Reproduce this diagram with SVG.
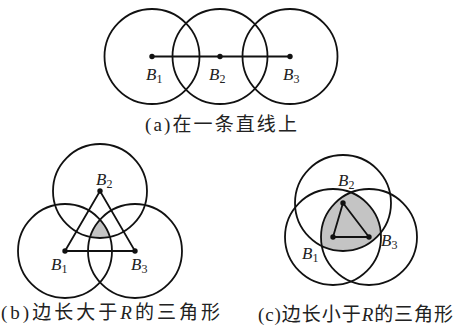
<svg xmlns="http://www.w3.org/2000/svg" width="457" height="332" viewBox="0 0 457 332">
<style>
.c{fill:none;stroke:#111;stroke-width:1.8}
.e{fill:none;stroke:#111;stroke-width:1.8}
.d{fill:#111}
.sh{fill:#c4c4c4;stroke:none}
.lb{font-family:"Liberation Serif",serif;font-style:italic;font-size:17px;fill:#222}
.sub{font-size:12px;font-style:normal}
.cap{font-family:"Liberation Serif","Noto Sans CJK SC",serif;font-size:19px;fill:#222}
</style>
<rect width="457" height="332" fill="#fff"/>

<!-- shaded regions -->
<path class="sh" d="M100,219.6 A47,47 0 0 1 109.86,236.96 A47,47 0 0 1 90.14,236.96 A47,47 0 0 1 100,219.6 Z"/>
<path class="sh" d="M351,192.5 A48,48 0 0 1 380.8,232.6 A48,48 0 0 1 321.9,246.1 A48,48 0 0 1 351,192.5 Z"/>

<!-- panel a -->
<g id="a-B1"><circle class="c" cx="152" cy="56.5" r="47.5"/><circle class="d" cx="152" cy="56.5" r="2.7"/><text class="lb" x="146" y="80">B<tspan class="sub" dy="3">1</tspan></text></g>
<g id="a-B2"><circle class="c" cx="220" cy="56.5" r="47.5"/><circle class="d" cx="220" cy="56.5" r="2.7"/><text class="lb" x="209" y="80">B<tspan class="sub" dy="3">2</tspan></text></g>
<g id="a-B3"><circle class="c" cx="290" cy="56.5" r="47.5"/><circle class="d" cx="290" cy="56.5" r="2.7"/><text class="lb" x="283" y="80">B<tspan class="sub" dy="3">3</tspan></text></g>

<!-- panel b -->
<g id="b-B2"><circle class="c" cx="100" cy="191" r="47"/><circle class="d" cx="100" cy="191" r="2.7"/><text class="lb" x="96" y="185">B<tspan class="sub" dy="3">2</tspan></text></g>
<g id="b-B1"><circle class="c" cx="65" cy="251" r="47"/><circle class="d" cx="65" cy="251" r="2.7"/><text class="lb" x="51" y="270">B<tspan class="sub" dy="3">1</tspan></text></g>
<g id="b-B3"><circle class="c" cx="135" cy="251" r="47"/><circle class="d" cx="135" cy="251" r="2.7"/><text class="lb" x="131" y="270">B<tspan class="sub" dy="3">3</tspan></text></g>

<!-- panel c -->
<g id="c-B2"><circle class="c" cx="343" cy="203" r="48"/><circle class="d" cx="343" cy="203" r="2.7"/><text class="lb" x="338" y="186">B<tspan class="sub" dy="3">2</tspan></text></g>
<g id="c-B1"><circle class="c" cx="333" cy="237" r="48"/><circle class="d" cx="333" cy="237" r="2.7"/><text class="lb" x="302" y="259">B<tspan class="sub" dy="3">1</tspan></text></g>
<g id="c-B3"><circle class="c" cx="369" cy="237" r="48"/><circle class="d" cx="369" cy="237" r="2.7"/><text class="lb" x="381" y="246">B<tspan class="sub" dy="3">3</tspan></text></g>

<!-- connectors -->
<g id="connectors">
<line class="e" x1="152" y1="56.5" x2="290" y2="56.5"/>
<polygon class="e" points="65,251 100,191 135,251"/>
<polygon class="e" points="333,237 343,203 369,237"/>
</g>

<!-- captions -->
<text class="cap" x="145" y="131" textLength="152" lengthAdjust="spacing">(a)在一条直线上</text>
<text class="cap" x="1" y="319" textLength="219" lengthAdjust="spacing">(b)边长大于<tspan font-style="italic">R</tspan>的三角形</text>
<text class="cap" x="258" y="321" textLength="195" lengthAdjust="spacing">(c)边长小于<tspan font-style="italic">R</tspan>的三角形</text>
</svg>
